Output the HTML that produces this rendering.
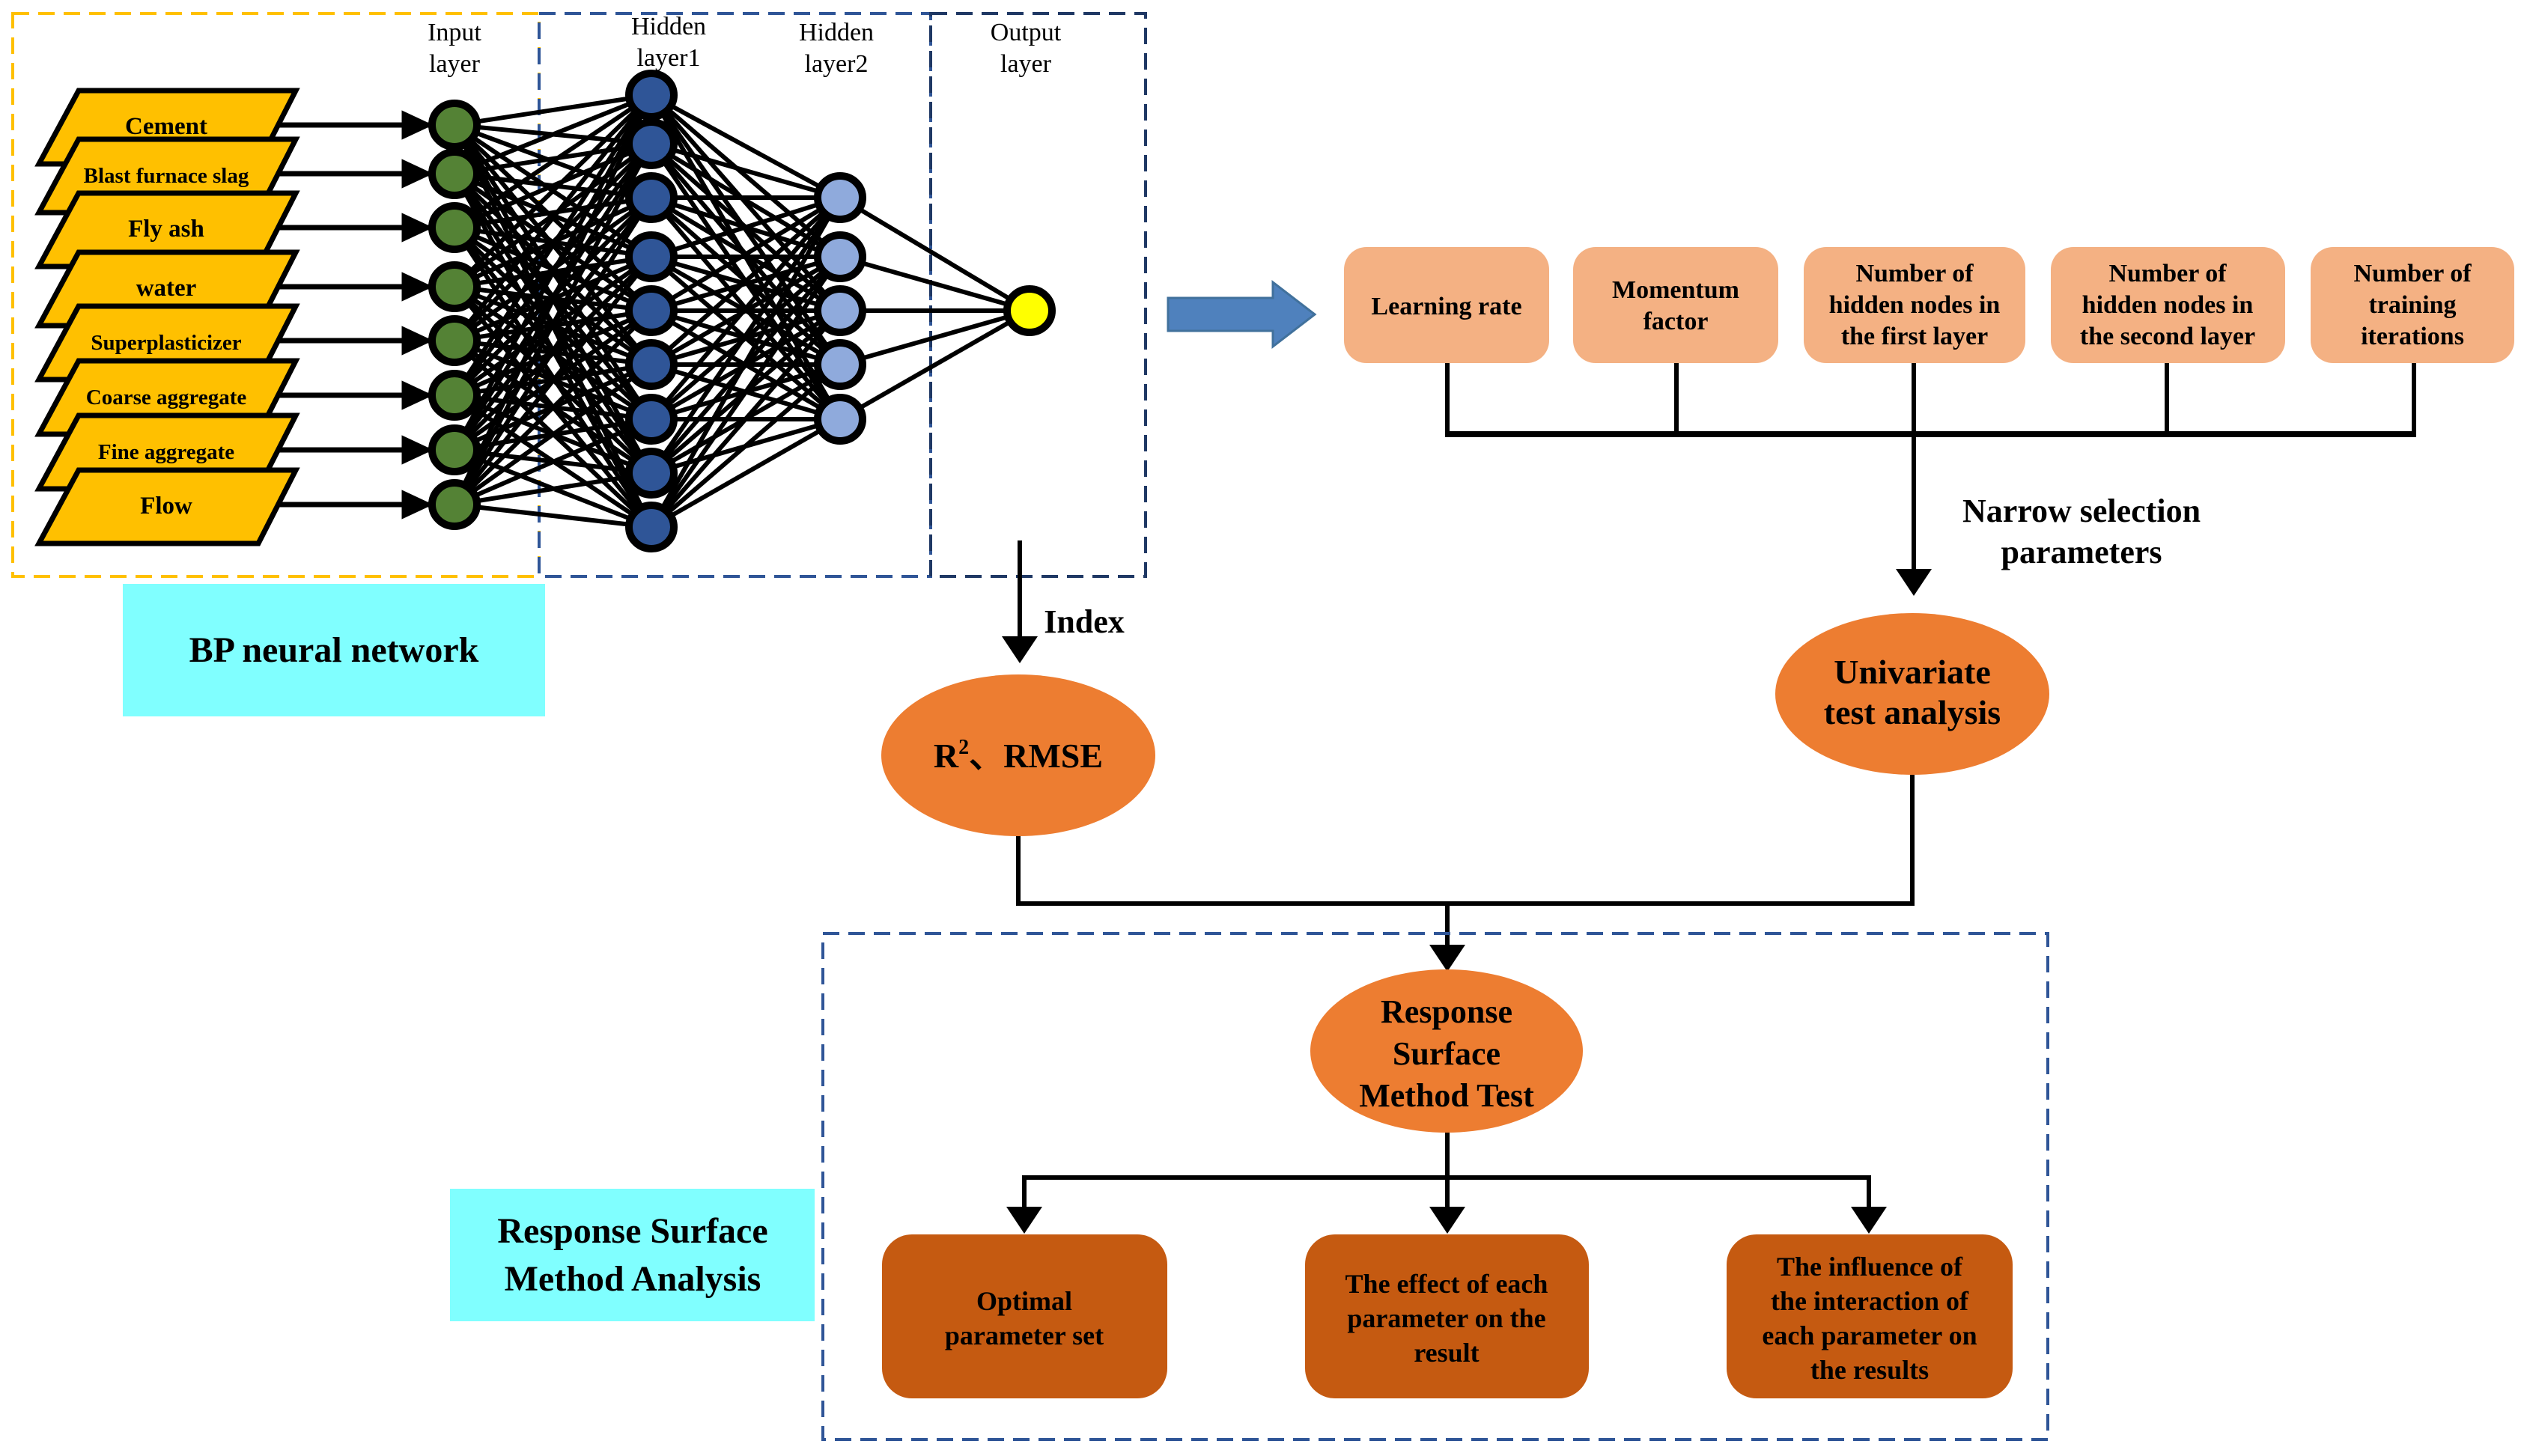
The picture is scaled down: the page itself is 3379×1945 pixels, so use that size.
<!DOCTYPE html>
<html><head><meta charset="utf-8"><style>
html,body{margin:0;padding:0;background:#fff}
svg{display:block}
text{font-family:"Liberation Serif",serif;font-weight:bold;fill:#000}
</style></head><body>
<svg id="s" width="3379" height="1945" viewBox="0 0 3379 1945" xmlns="http://www.w3.org/2000/svg">
<defs>
<marker id="ah" markerWidth="6" markerHeight="6" refX="5.5" refY="3" orient="auto" markerUnits="strokeWidth">
<path d="M0,0.2 L6,3 L0,5.8 z" fill="#000"/></marker>
<marker id="ah2" markerWidth="6" markerHeight="10" refX="5" refY="5" orient="auto" markerUnits="strokeWidth">
<path d="M0,1 L6,5 L0,9 z" fill="#000"/></marker>
</defs>
<rect x="17" y="18" width="703" height="752" fill="none" stroke="#ffc000" stroke-width="4" stroke-dasharray="22,12"/>
<rect x="720" y="18" width="523" height="752" fill="none" stroke="#2f5597" stroke-width="4" stroke-dasharray="22,12"/>
<rect x="1243" y="18" width="287" height="752" fill="none" stroke="#1f3864" stroke-width="4" stroke-dasharray="22,12"/>
<g id="net"></g>
<g font-size="34" text-anchor="middle">
<text x="607" y="54" style="font-weight:normal">Input</text><text x="607" y="96" style="font-weight:normal">layer</text>
<text x="893" y="46" style="font-weight:normal">Hidden</text><text x="893" y="88" style="font-weight:normal">layer1</text>
<text x="1117" y="54" style="font-weight:normal">Hidden</text><text x="1117" y="96" style="font-weight:normal">layer2</text>
<text x="1370" y="54" style="font-weight:normal">Output</text><text x="1370" y="96" style="font-weight:normal">layer</text>
</g>
<g id="inputs"></g>
<rect x="164" y="780" width="564" height="177" fill="#80ffff"/>
<text x="446" y="884" font-size="48" text-anchor="middle">BP neural network</text>
<rect x="601" y="1588" width="487" height="177" fill="#80ffff"/>
<text x="845" y="1660" font-size="48" text-anchor="middle">Response Surface</text>
<text x="845" y="1724" font-size="48" text-anchor="middle">Method Analysis</text>
<polygon points="1560,398 1700,398 1700,377 1756,420 1700,463 1700,442 1560,442" fill="#4f81bd" stroke="#41719c" stroke-width="3"/>
<g fill="#f4b183">
<rect x="1795" y="330" width="274" height="155" rx="30"/>
<rect x="2101" y="330" width="274" height="155" rx="30"/>
<rect x="2409" y="330" width="296" height="155" rx="30"/>
<rect x="2739" y="330" width="313" height="155" rx="30"/>
<rect x="3086" y="330" width="272" height="155" rx="30"/>
</g>
<g font-size="34" text-anchor="middle">
<text x="1932" y="420">Learning rate</text>
<text x="2238" y="398">Momentum</text><text x="2238" y="440">factor</text>
<text x="2557" y="376">Number of</text><text x="2557" y="418">hidden nodes in</text><text x="2557" y="460">the first layer</text>
<text x="2895" y="376">Number of</text><text x="2895" y="418">hidden nodes in</text><text x="2895" y="460">the second layer</text>
<text x="3222" y="376">Number of</text><text x="3222" y="418">training</text><text x="3222" y="460">iterations</text>
</g>
<g stroke="#000" stroke-width="6" fill="none">
<line x1="1933" y1="485" x2="1933" y2="580"/>
<line x1="2239" y1="485" x2="2239" y2="580"/>
<line x1="2556" y1="485" x2="2556" y2="580"/>
<line x1="2894" y1="485" x2="2894" y2="580"/>
<line x1="3224" y1="485" x2="3224" y2="580"/>
<line x1="1930" y1="580" x2="3227" y2="580" stroke-width="8"/>
<line x1="2556" y1="580" x2="2556" y2="790" marker-end="url(#ah2)"/>
<line x1="1362" y1="722" x2="1362" y2="880" marker-end="url(#ah2)"/>
<polyline points="1360,1116 1360,1207 2554,1207 2554,1035"/>
<line x1="1933" y1="1207" x2="1933" y2="1292" marker-end="url(#ah2)"/>
<line x1="1933" y1="1510" x2="1933" y2="1573"/>
<polyline points="1368,1642 1368,1573 2496,1573 2496,1642" />
<line x1="1368" y1="1573" x2="1368" y2="1642" marker-end="url(#ah2)"/>
<line x1="1933" y1="1573" x2="1933" y2="1642" marker-end="url(#ah2)"/>
<line x1="2496" y1="1573" x2="2496" y2="1642" marker-end="url(#ah2)"/>
</g>
<text x="2780" y="697" font-size="44" text-anchor="middle">Narrow selection</text>
<text x="2780" y="752" font-size="44" text-anchor="middle">parameters</text>
<text x="1448" y="845" font-size="44" text-anchor="middle">Index</text>
<ellipse cx="2554" cy="927" rx="183" ry="108" fill="#ed7d31"/>
<text x="2554" y="913" font-size="46" text-anchor="middle">Univariate</text>
<text x="2554" y="967" font-size="46" text-anchor="middle">test analysis</text>
<ellipse cx="1360" cy="1009" rx="183" ry="108" fill="#ed7d31"/>
<text x="1360" y="1025" font-size="46" text-anchor="middle">R<tspan font-size="28" dy="-18">2</tspan><tspan dy="18">、RMSE</tspan></text>
<rect x="1099" y="1247" width="1636" height="676" fill="none" stroke="#2f5597" stroke-width="4" stroke-dasharray="22,12"/>
<ellipse cx="1932" cy="1404" rx="182" ry="109" fill="#ed7d31"/>
<g font-size="44" text-anchor="middle">
<text x="1932" y="1366">Response</text><text x="1932" y="1422">Surface</text><text x="1932" y="1478">Method Test</text>
</g>
<g fill="#c55a11">
<rect x="1178" y="1649" width="381" height="219" rx="40"/>
<rect x="1743" y="1649" width="379" height="219" rx="40"/>
<rect x="2306" y="1649" width="382" height="219" rx="40"/>
</g>
<g font-size="36" text-anchor="middle">
<text x="1368" y="1750">Optimal</text><text x="1368" y="1796">parameter set</text>
<text x="1932" y="1727">The effect of each</text><text x="1932" y="1773">parameter on the</text><text x="1932" y="1819">result</text>
<text x="2497" y="1704">The influence of</text><text x="2497" y="1750">the interaction of</text><text x="2497" y="1796">each parameter on</text><text x="2497" y="1842">the results</text>
</g>
</svg>
<script>
(function(){
var NS="http://www.w3.org/2000/svg";
function el(t,a,p){var e=document.createElementNS(NS,t);for(var k in a)e.setAttribute(k,a[k]);p.appendChild(e);return e;}
var net=document.getElementById('net');
var L0=[167,232,304,383,455,528,601,674].map(function(y){return[607,y]});
var L1=[127,192,264,343,415,487,560,632,704].map(function(y){return[870,y]});
var L2=[264,343,415,487,560].map(function(y){return[1122,y]});
var L3=[[1375,415]];
function conn(A,B,w){A.forEach(function(a){B.forEach(function(b){el('line',{x1:a[0],y1:a[1],x2:b[0],y2:b[1],stroke:'#000','stroke-width':w},net);});});}
conn(L0,L1,6);conn(L1,L2,6);conn(L2,L3,6);
function nodes(L,f){L.forEach(function(p){el('ellipse',{cx:p[0],cy:p[1],rx:30,ry:29,fill:f,stroke:'#000','stroke-width':10},net);});}
nodes(L0,'#548235');nodes(L1,'#2f5597');nodes(L2,'#8faadc');nodes(L3,'#ffff00');
var g=document.getElementById('inputs');
var names=["Cement","Blast furnace slag","Fly ash","water","Superplasticizer","Coarse aggregate","Fine aggregate","Flow"];
L0.forEach(function(p,i){
 var y=p[1];
 el('line',{x1:370,y1:y,x2:575,y2:y,stroke:'#000','stroke-width':7,'marker-end':'url(#ah)'},g);
});
L0.forEach(function(p,i){
 var y=p[1];var top=y-46,bot=y+52;
 el('polygon',{points:(105)+','+top+' 395,'+top+' 345,'+bot+' 52,'+bot,fill:'#ffc000',stroke:'#000','stroke-width':7},g);
 var t=el('text',{x:222,y:y+12,'text-anchor':'middle','font-size':(names[i].length>12?29:33)},g);
 t.textContent=names[i];
});
})();
</script>
</body></html>
